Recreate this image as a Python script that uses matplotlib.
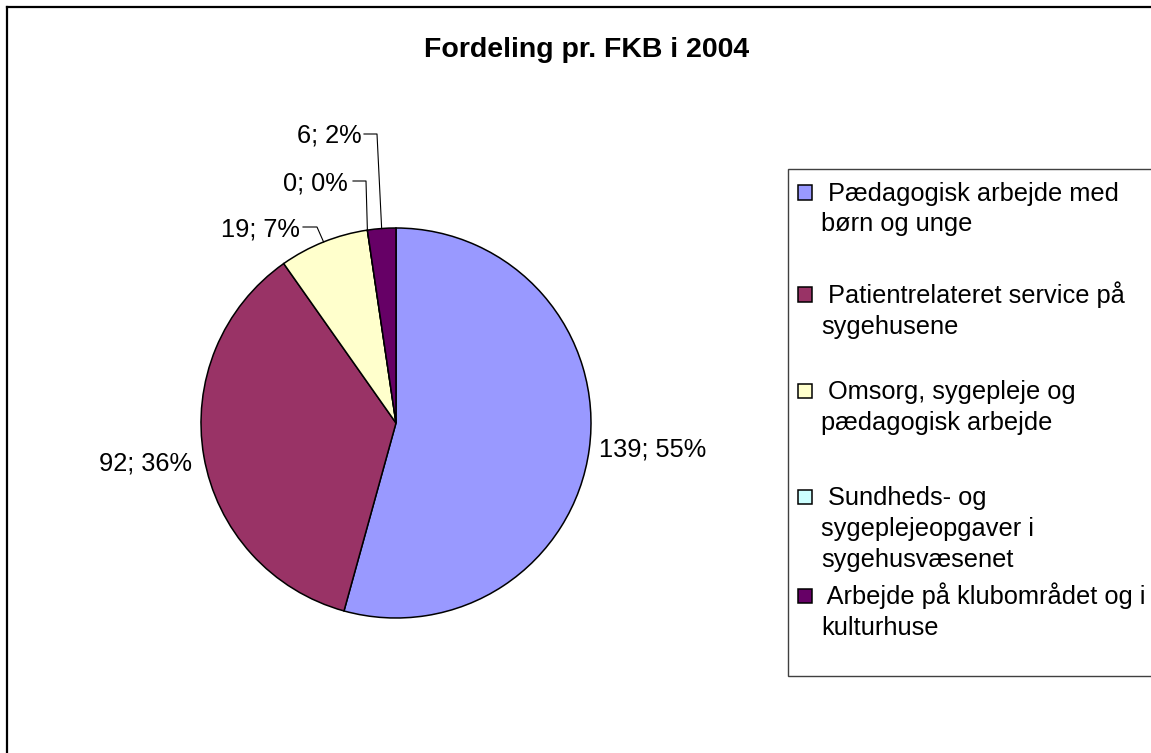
import matplotlib
matplotlib.use("Agg")
import matplotlib.pyplot as plt
from matplotlib.patches import Rectangle
from matplotlib.lines import Line2D
import numpy as np

plt.rcParams['font.family'] = ['Liberation Sans', 'DejaVu Sans']

# ---- data ----
title = "Fordeling pr. FKB i 2004"
categories = [
    "Pædagogisk arbejde med\nbørn og unge",
    "Patientrelateret service på\nsygehusene",
    "Omsorg, sygepleje og\npædagogisk arbejde",
    "Sundheds- og\nsygeplejeopgaver i\nsygehusvæsenet",
    "Arbejde på klubområdet og i\nkulturhuse",
]
values = [139, 92, 19, 0, 6]
percent_labels = [55, 36, 7, 0, 2]
colors = ["#9999FF", "#993366", "#FFFFCC", "#CCFFFF", "#660066"]

W, H = 1151, 753
fig = plt.figure(figsize=(W / 100, H / 100), dpi=100)
fig.patch.set_facecolor("white")


def fx(x):
    return x / W


def fy(y):
    return 1 - y / H


# outer chart border (left & top visible)
fig.add_artist(Line2D([fx(7), fx(7)], [fy(7), fy(H + 5)], color="black", lw=1.6,
                      transform=fig.transFigure))
fig.add_artist(Line2D([fx(7), fx(W + 5)], [fy(7), fy(7)], color="black", lw=1.6,
                      transform=fig.transFigure))

# title
fig.text(fx(586.5), fy(57), title, ha="center", va="baseline",
         fontsize=20.5, fontweight="bold")

# pie
cx, cy, r = 396, 423, 195
ax = fig.add_axes([fx(cx - r), fy(cy + r), 2 * r / W, 2 * r / H])
ax.pie(values, colors=colors, startangle=90, counterclock=False, radius=1,
       wedgeprops=dict(edgecolor="black", linewidth=1.1))
ax.set_xlim(-1, 1)
ax.set_ylim(-1, 1)
ax.set_aspect("auto")
ax.axis("off")

total = float(sum(values))
cum = np.cumsum([0] + values)
mid_frac = [(cum[i] + cum[i + 1]) / 2 / total for i in range(len(values))]

label_texts = [f"{v}; {p}%" for v, p in zip(values, percent_labels)]
fs = 18.3

# label layout: (x, baseline y, ha, leader start x, elbow x) in pixels
label_layout = [
    (599, 457, "left", None, None),
    (192, 471, "right", None, None),
    (300, 236, "right", 303, 317),
    (348, 190, "right", 353, 366),
    (362, 143, "right", 364, 377),
]

for i, (lx, ly, ha, sx, ex) in enumerate(label_layout):
    fig.text(fx(lx), fy(ly), label_texts[i], ha=ha, va="baseline", fontsize=fs)
    if sx is not None:
        ang = 2 * np.pi * mid_frac[i]
        px = cx + r * np.sin(ang)
        py = cy - r * np.cos(ang)
        yl = ly - 9
        fig.add_artist(Line2D([fx(sx), fx(ex), fx(px)], [fy(yl), fy(yl), fy(py)],
                              color="black", lw=0.8, transform=fig.transFigure))

# legend box
fig.add_artist(Rectangle((fx(788), fy(676)), (W + 20 - 788) / W, (676 - 169) / H,
                         facecolor="white", edgecolor="#404040", lw=1.0,
                         transform=fig.transFigure, zorder=0))

marker_centers = [192.5, 294.5, 391, 497, 596]
line_gap = 31
msz = 14.5
for i, name in enumerate(categories):
    mc = marker_centers[i]
    fig.add_artist(Rectangle((fx(797.5), fy(mc + msz / 2)), msz / W, msz / H,
                             facecolor=colors[i], edgecolor="black", lw=1.1,
                             transform=fig.transFigure))
    for j, line in enumerate(name.split("\n")):
        txt = (" " + line) if j == 0 else line
        fig.text(fx(821), fy(mc + 8 + j * line_gap), txt, ha="left",
                 va="baseline", fontsize=fs)

fig.savefig("out.png", dpi=100)
